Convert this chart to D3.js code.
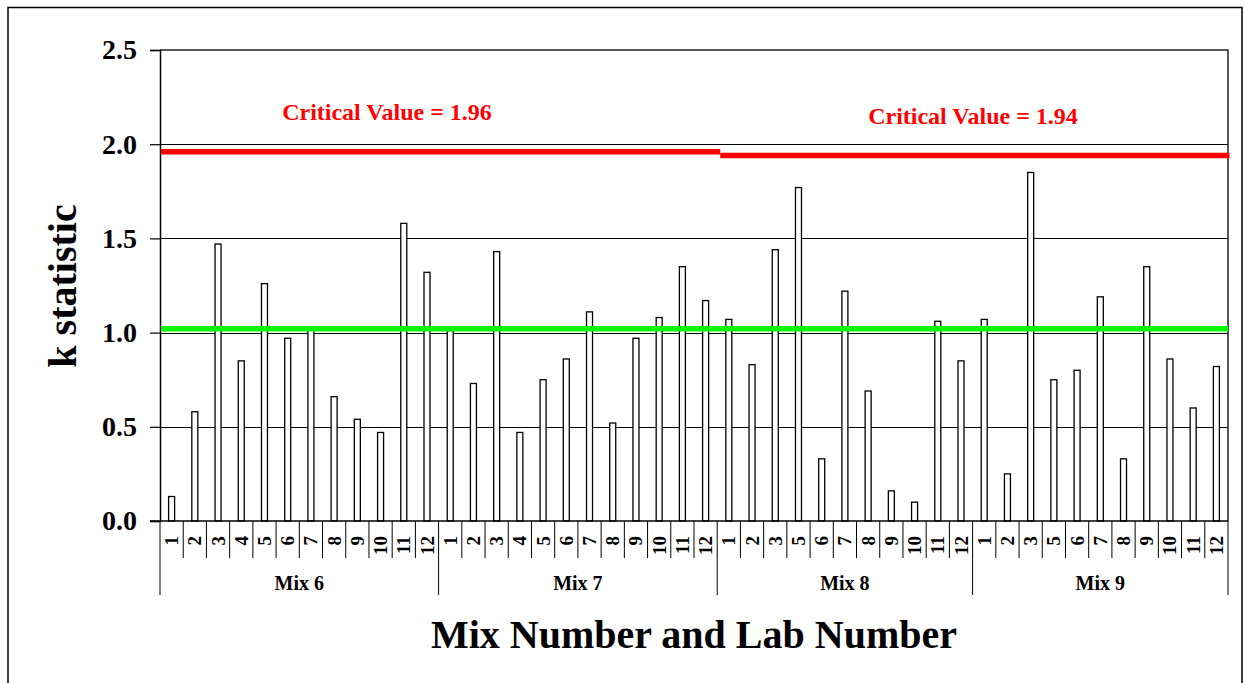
<!DOCTYPE html>
<html>
<head>
<meta charset="utf-8">
<script src="https://cdn.jsdelivr.net/npm/d3@7"></script>
<style>
  html, body { margin: 0; padding: 0; background: #fff; }
  svg { display: block; }
  text { font-family: "Liberation Serif", "Times New Roman", serif; font-weight: bold; }
</style>
</head>
<body>
<svg id="chart" width="1245" height="683"></svg>
<script>
// ---- data ----
const mixes = ["Mix 6", "Mix 7", "Mix 8", "Mix 9"];
const labs6 = [1, 2, 3, 4, 5, 6, 7, 8, 9, 10, 11, 12];
const labs7 = [1, 2, 3, 4, 5, 6, 7, 8, 9, 10, 11, 12];
const labs8 = [1, 2, 3, 5, 6, 7, 8, 9, 10, 11, 12];
const labs9 = [1, 2, 3, 5, 6, 7, 8, 9, 10, 11, 12];
const k6 = [0.13, 0.58, 1.47, 0.85, 1.26, 0.97, 1.03, 0.66, 0.54, 0.47, 1.58, 1.32];
const k7 = [1.01, 0.73, 1.43, 0.47, 0.75, 0.86, 1.11, 0.52, 0.97, 1.08, 1.35, 1.17];
const k8 = [1.07, 0.83, 1.44, 1.77, 0.33, 1.22, 0.69, 0.16, 0.10, 1.06, 0.85];
const k9 = [1.07, 0.25, 1.85, 0.75, 0.80, 1.19, 0.33, 1.35, 0.86, 0.60, 0.82];
const yTicks = [0, 0.5, 1.0, 1.5, 2.0, 2.5];
const critValues = [1.96, 1.94];
const critMixSpans = [["Mix 6", "Mix 7"], ["Mix 8", "Mix 9"]];
const critLabels = ["Critical Value = 1.96", "Critical Value = 1.94"];
const meanLine = 1.02;

const labsByMix = [labs6, labs7, labs8, labs9];
const kByMix = [k6, k7, k8, k9];
const rows = [];
mixes.forEach((m, i) => labsByMix[i].forEach((lab, j) => rows.push({ mix: m, lab: lab, key: m + "|" + lab, k: kByMix[i][j] })));

// ---- layout ----
const svg = d3.select("#chart");
const L = 160, R = 1228, T = 50, B = 521;
const x = d3.scaleBand().domain(rows.map(d => d.key)).range([L, R]).paddingInner(0).paddingOuter(0);
const y = d3.scaleLinear().domain([0, 2.5]).range([B, T]);
const bw = x.bandwidth();

// outer frame
svg.append("rect").attr("x", 8).attr("y", 7.5).attr("width", 1234).attr("height", 700)
  .attr("fill", "none").attr("stroke", "#000").attr("stroke-width", 1.5);

// gridlines
svg.append("g").selectAll("line").data(yTicks.filter(t => t > 0 && t < 2.5)).join("line")
  .attr("x1", L).attr("x2", R).attr("y1", d => Math.round(y(d)) + 0.5).attr("y2", d => Math.round(y(d)) + 0.5)
  .attr("stroke", "#000").attr("stroke-width", 1);

// plot border (top/right)
svg.append("path").attr("d", `M${L},${T}H${R}V${B}`).attr("fill", "none").attr("stroke", "#222").attr("stroke-width", 1.5);

// y axis
const yAxis = d3.axisLeft(y).tickValues(yTicks).tickFormat(d3.format(".1f")).tickSize(10).tickPadding(13);
const gy = svg.append("g").attr("transform", `translate(${L},0)`).call(yAxis);
gy.select(".domain").attr("stroke", "#000").attr("stroke-width", 1.5);
gy.selectAll(".tick line").attr("stroke", "#000").attr("stroke-width", 1.2);
gy.selectAll(".tick text").attr("font-size", 28).attr("fill", "#000")
  .attr("font-family", "Liberation Serif, Times New Roman, serif").attr("font-weight", "bold");

// bars
svg.append("g").selectAll("rect").data(rows).join("rect")
  .attr("x", d => x(d.key) + bw / 2 - 3)
  .attr("y", d => y(d.k))
  .attr("width", 6)
  .attr("height", d => y(0) - y(d.k))
  .attr("fill", "#fff").attr("stroke", "#000").attr("stroke-width", 1.3);

// x axis line
svg.append("line").attr("x1", 150).attr("x2", R).attr("y1", B).attr("y2", B).attr("stroke", "#000").attr("stroke-width", 1.5);

// category separators
const bounds = rows.map(d => x(d.key)).concat([R]);
const groupStarts = new Set(mixes.map(m => x(rows.find(r => r.mix === m).key)).concat([R]));
svg.append("g").selectAll("line").data(bounds).join("line")
  .attr("x1", d => d).attr("x2", d => d).attr("y1", B)
  .attr("y2", d => groupStarts.has(d) ? 595 : 558)
  .attr("stroke", "#000").attr("stroke-width", 1);

// lab labels
svg.append("g").selectAll("text").data(rows).join("text")
  .attr("transform", d => `translate(${x(d.key) + bw / 2},536) rotate(-90)`)
  .attr("text-anchor", "end").attr("dominant-baseline", "central")
  .attr("font-size", 19).attr("fill", "#000")
  .text(d => d.lab);

// mix labels
svg.append("g").selectAll("text").data(mixes).join("text")
  .attr("x", m => { const rs = rows.filter(r => r.mix === m); return (x(rs[0].key) + x(rs[rs.length - 1].key) + bw) / 2; })
  .attr("y", 590).attr("text-anchor", "middle").attr("font-size", 20).attr("fill", "#000")
  .text(m => m);

// green line
svg.append("line").attr("x1", L + 1).attr("x2", R).attr("y1", y(meanLine)).attr("y2", y(meanLine))
  .attr("stroke", "#00ff00").attr("stroke-width", 5.5);

// red critical lines
critValues.forEach((cv, i) => {
  const [m0, m1] = critMixSpans[i];
  const first = rows.find(r => r.mix === m0);
  const lastRows = rows.filter(r => r.mix === m1);
  const last = lastRows[lastRows.length - 1];
  const x0 = i === 0 ? x(first.key) + 1 : x(first.key) + 3;
  const x1 = i === 0 ? x(last.key) + bw + 3 : x(last.key) + bw + 1.5;
  svg.append("line").attr("x1", x0).attr("x2", x1).attr("y1", y(cv)).attr("y2", y(cv))
    .attr("stroke", "#ff0000").attr("stroke-width", 5.5);
});

// critical labels
const labelPos = [[387, 120], [973, 124]];
critLabels.forEach((t, i) => {
  svg.append("text").attr("x", labelPos[i][0]).attr("y", labelPos[i][1])
    .attr("text-anchor", "middle").attr("font-size", 24).attr("fill", "#ff0000").text(t);
});

// axis titles
svg.append("text").attr("x", 694).attr("y", 648).attr("text-anchor", "middle")
  .attr("font-size", 40).attr("fill", "#000").text("Mix Number and Lab Number");
svg.append("text").attr("transform", "translate(62,286) rotate(-90)").attr("text-anchor", "middle")
  .attr("dominant-baseline", "central").attr("font-size", 40).attr("fill", "#000").text("k statistic");
</script>
</body>
</html>
